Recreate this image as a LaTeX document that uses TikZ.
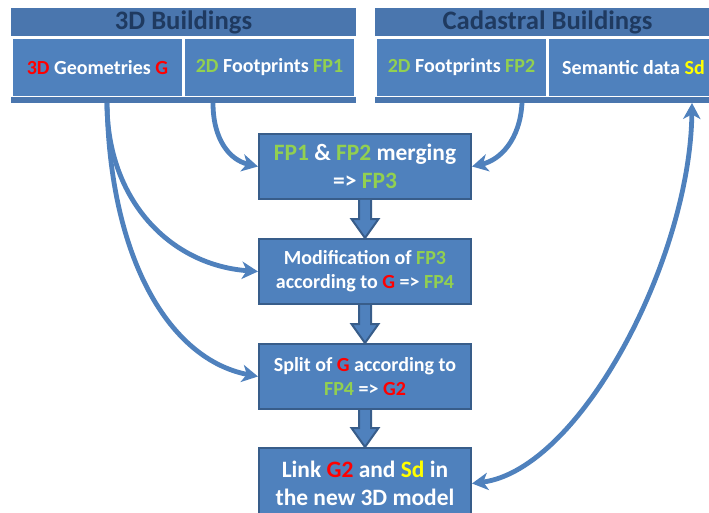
\documentclass[tikz,border=0pt]{standalone}
\usepackage{fontspec}
\setmainfont{Carlito}
\usepackage{xcolor}
\usepackage{tikz}
\usetikzlibrary{positioning,calc}
\usetikzlibrary{arrows.meta}

\definecolor{cellblue}{HTML}{4F81BD}
\definecolor{hdrblue}{HTML}{4A76AE}
\definecolor{hdrtext}{HTML}{1F3A60}
\definecolor{edgeblue}{HTML}{385D8A}
\definecolor{fpgreen}{HTML}{92D050}
\definecolor{geored}{HTML}{FF0000}
\definecolor{sdyellow}{HTML}{FFFF00}

\newcommand{\gtxt}[1]{\textcolor{fpgreen}{#1}}
\newcommand{\rtxt}[1]{\textcolor{geored}{#1}}
\newcommand{\ytxt}[1]{\textcolor{sdyellow}{#1}}

\tikzset{
	header/.style={fill=hdrblue, text=hdrtext, minimum width=258.75pt, minimum height=21pt, inner sep=0pt, font=\fontsize{20}{24}\selectfont\bfseries},
	cell/.style={fill=cellblue, text=white, minimum width=126.75pt, minimum height=42.75pt, inner sep=0pt, font=\fontsize{15}{18}\selectfont\bfseries},
	stepbox/.style={draw=edgeblue, line width=1.5pt, fill=cellblue, text=white, align=center, minimum width=159pt, minimum height=48.75pt, inner sep=2pt},
	bigtext/.style={font=\fontsize{17.6}{21}\selectfont\bfseries},
	smalltext/.style={font=\fontsize{15}{18}\selectfont\bfseries},
	flow/.style={draw=cellblue, line width=3.6pt, >={Stealth[length=12pt,width=13pt,inset=3.5pt]}, ->},
	blockarr/.style={draw=edgeblue, line width=1.5pt, fill=cellblue, line join=miter}
}

\begin{document}
\begin{tikzpicture}[x=0.75pt,y=-0.75pt]
	\clip (0,0) rectangle (709,513);
	
	\node[header] (bld3d) at (183.5,22) {3D Buildings};
	\node[cell] (geo) at (97.5,67.5) {\rtxt{3D} Geometries \rtxt{G}};
	\node[cell] (fp1) at (269.5,67.5) {\gtxt{2D} Footprints \gtxt{FP1}};
	\fill[hdrblue] (11,97.5) rectangle (356,103);
	
	\node[header] (cad) at (547.5,22) {Cadastral Buildings};
	\node[cell] (fp2) at (461.5,67.5) {\gtxt{2D} Footprints \gtxt{FP2}};
	\node[cell] (sem) at (633.5,67.5) {Semantic data \ytxt{Sd}};
	\fill[hdrblue] (375,97.5) rectangle (720,103);
	
	\coordinate (geoOut) at (107,103);
	\coordinate (fp1Out) at (213,103);
	\coordinate (fp2Out) at (522,103);
	\coordinate (semIn) at (692,103);
	
	\node[stepbox,bigtext] (mrg) at (365,166.5) {\gtxt{FP1} \& \gtxt{FP2} merging\\=> \gtxt{FP3}};
	\node[stepbox,smalltext] (mod) [below = 28.5pt of mrg] {Modification of \gtxt{FP3}\\according to \rtxt{G} => \gtxt{FP4}};
	\node[stepbox,smalltext] (spl) [below = 28.5pt of mod] {Split of \rtxt{G} according to\\\gtxt{FP4} => \rtxt{G2}};
	\node[stepbox,bigtext,minimum height=53.25pt] (lnk) [below = 27.75pt of spl] {Link \rtxt{G2} and \ytxt{Sd} in\\the new 3D model};
	
	\foreach \a/\b in {mrg/mod,mod/spl,spl/lnk}
		\draw[blockarr] ($(\a.south)+(-6,0)$) -- ($(\b.north)+(-6,-19)$) -- ++(-7.5,0) -- (\b.north)
			-- ($(\b.north)+(13.5,-19)$) -- ++(-7.5,0) -- ($(\a.south)+(6,0)$);
	
	\draw[flow] (fp1Out) .. controls +(0,37) and +(-28,-6.5) .. (mrg.west);
	\draw[flow] (geoOut) .. controls +(0,97) and +(-88,-6.5) .. (mod.west);
	\draw[flow] (geoOut) .. controls +(3,157) and +(-88,-17) .. (spl.west);
	\draw[flow] (fp2Out) .. controls +(-2,37) and +(28,-6.5) .. (mrg.east);
	\draw[flow,<->] (lnk.east) .. controls +(108,-14) and +(-2,157) .. (semIn);
\end{tikzpicture}
\end{document}
